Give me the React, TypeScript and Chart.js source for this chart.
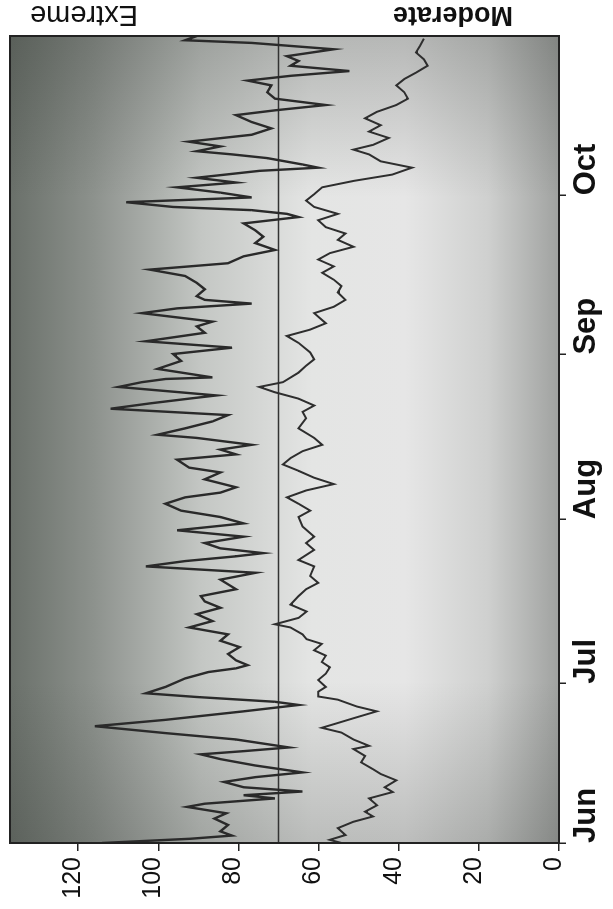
import React, { useEffect, useRef } from "react";
import { Chart, registerables } from "chart.js";

Chart.register(...registerables);

// Time axis: day index counted from 1 June (0) to 31 October (152)
const monthLabels = ["Jun", "Jul", "Aug", "Sep", "Oct"];
const monthTickDays = [0, 30, 61, 92, 122];
const valueTicks = [0, 20, 40, 60, 80, 100, 120];
const referenceLevel = 70;
const seriesNames = ["Extreme", "Moderate"];

const extremeDays = [
  0, 0.8, 1.4, 2.2, 3.4, 4.6, 5.6, 6.8, 7.4, 8.4, 9, 9.7, 10.5, 11.5, 12.4, 13.3, 14.6, 15.8, 16.7, 17.3,
  18, 19.5, 20.7, 22, 23.2, 24.8, 26, 26.6, 27.5, 28.2, 29.4, 31, 32.2, 32.9, 33.5, 34.4, 35.6, 36.9, 38.1,
  39.3, 40.6, 41.8, 43.1, 44.3, 45.5, 46.5, 47.8, 49.6, 50.9, 52.1, 53.1, 54, 54.6, 55.5, 56.5, 57.7, 58.9,
  60.2, 61.4, 62.6, 63.9, 65.1, 66, 67, 68.5, 69.8, 70.7, 72.2, 73.2, 74.1, 75, 76.3, 76.9, 78.1, 79.4, 80.6,
  81.8, 82.8, 83.7, 84.3, 85.9, 86.8, 87.4, 87.7, 89.3, 90.8, 92.1, 93.3, 94.5, 96.1, 97.3, 98.2, 99.8, 100.7,
  101.6, 102.3, 103, 104.3, 105.5, 106.8, 108, 109.2, 110.5, 111.7, 113, 114.2, 115.4, 116.7, 117.9, 118.5,
  119.2, 119.8, 120.7, 121.6, 122.5, 123.5, 124.4, 125.3, 126.6, 127.2, 127.8, 129, 129.7, 130.3, 131.2,
  132.1, 133.4, 134.6, 135.8, 137.1, 138, 139, 140.2, 141.4, 142.7, 143.6, 144.5, 145.4, 146.4, 147.3, 148.2,
  149.5, 150.7, 151.2, 152,
];
const extremeValues = [
  114, 92, 81.6, 84.5, 82.6, 86, 83, 92.8, 88.4, 70.9, 78.7, 64, 78.7, 83.6, 75.8, 64, 75.8, 84.5, 89.4, 78.7,
  67.4, 80.6, 98.2, 115.8, 98.2, 78.7, 65, 70.9, 90.4, 103.1, 98.2, 93.3, 87.5, 80.6, 77.7, 80.6, 82.6, 79.7, 84.5,
  82.6, 92.3, 86.5, 90.4, 84.5, 88.4, 89.4, 80.6, 84.5, 75.7, 103.1, 93.3, 80.6, 73.8, 84.5, 88.4, 78.7, 95.3,
  78.7, 84.5, 94.3, 98.2, 93.3, 84.5, 80.6, 88.4, 84.5, 92.3, 95.3, 80.6, 84.5, 76.7, 90.4, 100.2, 93.3, 86.5, 82.6,
  111.9, 102.1, 92.3, 85.5, 109.9, 104.1, 98.2, 86.5, 100.2, 94.3, 96.3, 81.6, 103.1, 88.4, 90.4, 86.5, 104.1, 95.3,
  76.7, 88.4, 90.4, 88.4, 90.4, 93.3, 102.1, 82.6, 78.7, 70.9, 75.8, 73.8, 75.8, 78.7, 65, 67.9,
  76.7, 96.3, 108, 76.7, 84.5, 95.3, 80.6, 90.4, 74.8, 60.1, 64, 72.8, 81.6, 90.4, 84.5,
  92.4, 76.7, 71.8, 76.7, 80.6, 70.9, 58.2, 70.9, 72.8, 71.8, 77.7, 67, 52.3, 67, 65, 67.9,
  56.2, 76.7, 93.3, 90.4,
];

const moderateDays = [
  0, 0.6, 1.5, 2.8, 4, 5, 5.9, 7.1, 8.4, 9.6, 10.5, 11.8, 13, 13.9, 15.2, 16.4, 17.7, 18.3, 19.5, 20.8, 21.7,
  22.6, 23.5, 24.8, 25.7, 27, 27.6, 28.5, 29.4, 30.7, 31.9, 33.1, 34.1, 35.3, 36.3, 37.5, 38.4, 39.3, 40.6,
  41.2, 42.4, 43.6, 44.9, 46.5, 47.8, 49, 50.3, 52.1, 53.3, 55.2, 56.5, 57.7, 59.6, 61.4, 62.6, 63.9, 65.1,
  66.4, 67.6, 68.8, 70.1, 71.3, 72.5, 73.8, 75, 76.3, 78.1, 80, 81.2, 82.4, 83.7, 84.9, 85.9, 86.8, 88.6,
  89.9, 91.1, 92.4, 94.2, 95.5, 96.7, 97.9, 99.8, 101, 102.3, 103.7, 104.9, 106.1, 107.4, 108.6, 109.9,
  111.1, 112.3, 113.6, 114.8, 116, 117.3, 118.5, 119.8, 121, 122.2, 123.5, 124.7, 125.9, 127.2, 128.4,
  129.7, 130.6, 131.5, 132.8, 134, 135.2, 136.5, 137.7, 139, 140.2, 141.4, 142.7, 143.9, 145.1, 146.4,
  147.6, 148.9, 150.1, 151.5,
];
const moderateValues = [
  54.3, 57.2, 53.3, 55.2, 51.3, 46.4, 48.4, 45.4, 47.4, 41.5, 43.5, 40.6, 44.5, 46.4, 49.4, 48.4, 51.3, 47.4, 51.3, 54.3, 59.2,
  55.2, 51.3, 45.5, 50.4, 55.2, 60.1, 60.1, 58.2, 60.1, 58.2, 57.2, 59.2, 58.2, 61.1, 59.2, 63, 64, 67,
  70.9, 65, 63, 67, 65, 63.1, 60.1, 62.1, 61.1, 65, 61.1, 63.1, 61.1, 64, 65, 62.1, 65, 67.9,
  63.1, 56.2, 61.1, 65, 68.9, 67, 64, 59.1, 61.1, 65, 63.1, 64, 61.1, 65, 70.9, 74.8, 68.9, 65,
  63.1, 61.1, 62.1, 65, 67.9, 62.1, 58.2, 61.1, 56.2, 53.3, 55.2, 54.3, 56.2, 59.1, 56.2, 60.1,
  57.2, 51.3, 55.2, 53.3, 58.2, 60.1, 55.2, 61.1, 63.1, 61.1, 59.1, 51.3, 41.6, 36.7, 44.5,
  47.4, 51.3, 46.4, 42.5, 47.4, 44.5, 48.4, 45.5, 40.6, 37.7, 38.6, 40.6, 38.6, 35.7, 32.8,
  33.7, 35.7, 34.7, 33.7,
];

const W = 909;
const H = 613;
const FONT = '"Liberation Sans", Arial, Helvetica, sans-serif';

export default function App() {
  const ref = useRef<HTMLCanvasElement>(null);

  useEffect(() => {
    if (!ref.current) return;
    const backgroundPlugin = {
      id: "plotBackground",
      beforeDraw(chart: any) {
        const { ctx, chartArea: a } = chart;
        ctx.save();
        const g = ctx.createLinearGradient(0, a.top, 0, a.bottom);
        g.addColorStop(0, "#6a706a");
        g.addColorStop(0.15, "#8c918c");
        g.addColorStop(0.35, "#c4c7c4");
        g.addColorStop(0.55, "#e4e5e4");
        g.addColorStop(0.72, "#e6e6e6");
        g.addColorStop(0.87, "#cfd0cf");
        g.addColorStop(1, "#a0a2a0");
        ctx.fillStyle = g;
        ctx.fillRect(a.left, a.top, a.right - a.left, a.bottom - a.top);
        const g2 = ctx.createLinearGradient(a.left, 0, a.right, 0);
        g2.addColorStop(0, "rgba(40,45,40,0.22)");
        g2.addColorStop(0.2, "rgba(40,45,40,0)");
        g2.addColorStop(0.8, "rgba(40,45,40,0)");
        g2.addColorStop(1, "rgba(40,45,40,0.25)");
        ctx.fillStyle = g2;
        ctx.fillRect(a.left, a.top, a.right - a.left, a.bottom - a.top);
        ctx.restore();
      },
      afterDraw(chart: any) {
        const { ctx, chartArea: a } = chart;
        ctx.save();
        ctx.strokeStyle = "#222";
        ctx.lineWidth = 2;
        ctx.strokeRect(a.left, a.top, a.right - a.left, a.bottom - a.top);
        ctx.restore();
      },
    };

    const chart = new Chart(ref.current, {
      type: "line",
      data: {
        datasets: [
          {
            label: seriesNames[0],
            data: extremeDays.map((d, i) => ({ x: d, y: extremeValues[i] })),
            borderColor: "#2a2a2a",
            borderWidth: 2.4,
            pointRadius: 0,
            tension: 0,
          },
          {
            label: seriesNames[1],
            data: moderateDays.map((d, i) => ({ x: d, y: moderateValues[i] })),
            borderColor: "#2e2e2e",
            borderWidth: 2,
            pointRadius: 0,
            tension: 0,
          },
          {
            label: "reference",
            data: [
              { x: 0, y: referenceLevel },
              { x: 152, y: referenceLevel },
            ],
            borderColor: "#333",
            borderWidth: 1.5,
            pointRadius: 0,
          },
        ],
      },
      options: {
        animation: false,
        responsive: false,
        devicePixelRatio: 1,
        layout: { padding: { top: 10, right: 36, left: 0, bottom: 0 } },
        plugins: { legend: { display: false }, tooltip: { enabled: false } },
        scales: {
          x: {
            type: "linear",
            min: 0,
            max: 152,
            afterBuildTicks: (s: any) => {
              s.ticks = monthTickDays.map((v) => ({ value: v }));
            },
            afterFit: (s: any) => {
              s.height = 54;
              s.paddingLeft = 0;
              s.paddingRight = 0;
            },
            ticks: {
              callback: (v: any) => {
                const i = monthTickDays.indexOf(Number(v));
                return i >= 0 ? monthLabels[i] : "";
              },
              align: "start",
              maxRotation: 0,
              minRotation: 0,
              autoSkip: false,
              font: { family: FONT, size: 31, weight: "bold" },
              color: "#111",
              padding: 2,
            },
            grid: { display: true, drawOnChartArea: false, drawTicks: true, tickLength: 7, color: "#222", lineWidth: 1.5 },
            border: { display: true, color: "#222", width: 2 },
          },
          y: {
            type: "linear",
            min: 0,
            max: 137,
            afterBuildTicks: (s: any) => {
              s.ticks = valueTicks.map((v) => ({ value: v }));
            },
            afterFit: (s: any) => {
              s.width = 66;
              s.paddingTop = 0;
              s.paddingBottom = 0;
            },
            ticks: {
              callback: (v: any) => String(v),
              font: { family: FONT, size: 25 },
              color: "#111",
              padding: 6,
              labelOffset: -5,
            },
            grid: { display: true, drawOnChartArea: false, drawTicks: true, tickLength: 8, color: "#222", lineWidth: 1.5 },
            border: { display: true, color: "#222", width: 2 },
          },
        },
      } as any,
      plugins: [backgroundPlugin],
    });
    return () => chart.destroy();
  }, []);

  return (
    <>
      <div
        style={{
          position: "absolute",
          left: 0,
          top: 0,
          width: W,
          height: H,
          transformOrigin: "0 0",
          transform: `translateY(${W}px) rotate(-90deg)`,
        }}
      >
        <canvas ref={ref} width={W} height={H} style={{ display: "block", width: W, height: H }} />
      </div>
      <div
        style={{
          position: "absolute",
          left: 30,
          top: 1,
          font: `29px ${FONT}`,
          lineHeight: "29px",
          whiteSpace: "nowrap",
          color: "#111",
          transform: "rotate(180deg)",
        }}
      >
        {seriesNames[0]}
      </div>
      <div
        style={{
          position: "absolute",
          left: 393,
          top: 1,
          font: `bold 27px ${FONT}`,
          lineHeight: "29px",
          whiteSpace: "nowrap",
          color: "#111",
          transform: "rotate(180deg)",
        }}
      >
        {seriesNames[1]}
      </div>
    </>
  );
}
